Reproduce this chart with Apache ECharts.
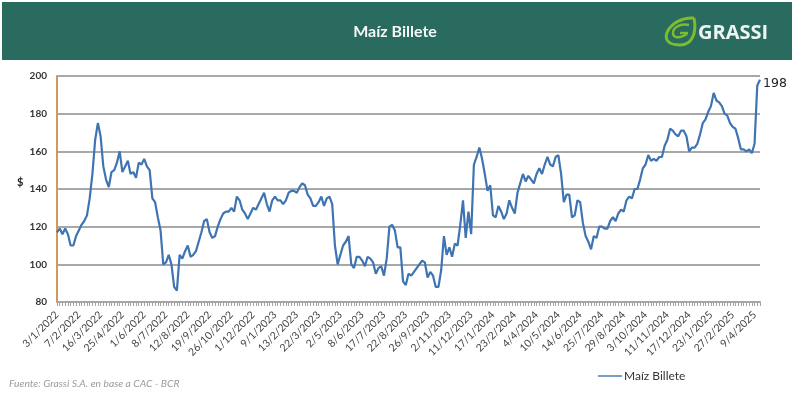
<!DOCTYPE html>
<html><head><meta charset="utf-8">
<style>html,body{margin:0;padding:0;background:#fff}#c{width:792px;height:395px;filter:blur(0.35px)}</style>
<script src="https://cdn.jsdelivr.net/npm/echarts@6/dist/echarts.min.js"></script>
</head><body><div id="c"></div>
<script>
const titleText = 'Maíz Billete';
const sourceText = 'Fuente: Grassi S.A. en base a CAC - BCR';
const seriesName = 'Maíz Billete';
const tickLabels = ['3/1/2022','7/2/2022','16/3/2022','25/4/2022','1/6/2022','8/7/2022','12/8/2022','19/9/2022','26/10/2022','1/12/2022','9/1/2023','13/2/2023','22/3/2023','2/5/2023','8/6/2023','17/7/2023','22/8/2023','26/9/2023','2/11/2023','11/12/2023','17/1/2024','23/2/2024','4/4/2024','10/5/2024','14/6/2024','25/7/2024','29/8/2024','3/10/2024','11/11/2024','17/12/2024','23/1/2025','27/2/2025','9/4/2025'];
const labelEvery = 8;
const values = [
117,119,116,119,116,110,110,115,
118,121,123,126,135,148,166,175,
168,152,145,141,149,150,154,160,
149,152,155,148,149,146,154,153,
156,152,150,135,133,125,118,100,
101,105,100,88,86,105,103,107,
110,104,105,107,112,117,123,124,
117,114,115,120,124,127,128,128,
130,128,136,134,129,127,124,127,
130,129,132,135,138,132,128,134,
136,134,134,132,134,138,139,139,
138,141,143,142,137,135,131,131,
133,136,131,135,136,132,110,100,
105,110,112,115,100,98,104,104,
102,99,104,103,101,95,98,99,
94,103,120,121,118,109,109,91,
89,95,94,96,98,100,102,101,
93,96,94,88,88,97,115,105,
109,104,111,110,121,134,114,128,
116,153,157,162,156,148,139,142,
126,125,131,128,124,127,134,130,
127,138,143,148,144,147,145,143,
148,151,148,153,157,153,152,157,
158,148,133,137,137,125,126,134,
133,122,115,112,108,115,114,120,
120,119,119,123,125,123,127,129,
128,134,136,135,140,140,145,151,
153,158,155,156,155,157,157,163,
166,172,171,169,168,171,171,168,
160,162,162,164,169,175,177,181,
184,191,187,186,184,180,179,175,
173,172,167,161,161,160,161,159,
164,195,198
];
const yMin = 80, yMax = 200, yStep = 20;
const categories = values.map((v,i)=> i % labelEvery === 0 && tickLabels[i/labelEvery] ? tickLabels[i/labelEvery] : '');
const FONT = 'Lato, "Open Sans", sans-serif';
const LEAF = {fill:'none',stroke:'#7dbb2f',lineWidth:3};
const chart = echarts.init(document.getElementById('c'), null, {renderer:'canvas', width:792, height:395});
chart.setOption({
  animation:false,
  backgroundColor:'#ffffff',
  grid:{left:57,right:32,top:76,bottom:93,containLabel:false},
  legend:{show:true,left:593,top:365,itemWidth:24,itemHeight:10,itemGap:4,
    data:[{name:seriesName,icon:'path://M0 4.3H24V5.7H0Z'}],
    textStyle:{fontFamily:FONT,fontSize:12,color:'#333',padding:[0,0,0,-3]}},
  xAxis:{type:'category',data:categories,boundaryGap:false,
    axisLine:{lineStyle:{color:'#a6a6a6',width:2}},
    axisTick:{show:true,interval:0,length:4,lineStyle:{color:'#a6a6a6',width:1}},
    axisLabel:{interval:labelEvery-1,rotate:45,fontFamily:FONT,fontSize:10.5,color:'#444',margin:11,hideOverlap:false}},
  yAxis:{type:'value',min:yMin,max:yMax,interval:yStep,
    axisLine:{show:true,lineStyle:{color:'#cf9a55',width:2}},
    axisTick:{show:false},
    axisLabel:{fontFamily:FONT,fontSize:10,fontWeight:'bold',color:'#333',margin:10},
    splitLine:{show:true,lineStyle:{color:'#a8a8a8',width:2}}},
  series:[{name:seriesName,type:'line',data:values,symbol:'none',smooth:false,
    lineStyle:{color:'#3f74b2',width:2.2},itemStyle:{color:'#3f74b2'},
    endLabel:{show:true,formatter:'{c}',fontFamily:'"DejaVu Sans"',fontSize:12.5,color:'#222',distance:3,offset:[0,4]}}],
  graphic:[
    {type:'rect',z:0,shape:{x:2,y:2,width:790,height:58},style:{fill:'#2a6b5f'}},
    {type:'text',z:5,style:{x:395,y:32,text:titleText,fill:'#f4f8f6',font:'bold 16px '+FONT,textAlign:'center',textVerticalAlign:'middle'}},
    {type:'text',z:5,style:{x:698,y:33,text:'GRASSI',fill:'#eef4f1',font:'bold 20px "Open Sans", Lato, sans-serif',textAlign:'left',textVerticalAlign:'middle'}},
    {type:'bezierCurve',z:5,shape:{x1:694,y1:18,x2:680,y2:45,cpx1:670,cpy1:16,cpx2:653,cpy2:45},style:LEAF},
    {type:'bezierCurve',z:5,shape:{x1:694,y1:18,x2:680,y2:45,cpx1:697,cpy1:33,cpx2:692,cpy2:45},style:LEAF},
    {type:'bezierCurve',z:5,shape:{x1:689,y1:25,x2:687,y2:34,cpx1:668,cpy1:21,cpx2:668,cpy2:46},style:{fill:'none',stroke:'#7dbb2f',lineWidth:2.4}},
    {type:'line',z:5,shape:{x1:680,y1:33,x2:688,y2:33},style:{stroke:'#7dbb2f',lineWidth:2.4}},
    {type:'text',z:5,style:{x:17,y:182,text:'$',fill:'#222',font:'bold 11px '+FONT,textVerticalAlign:'middle'}},
    {type:'text',z:5,style:{x:9,y:384,text:sourceText,fill:'#9a9a9a',font:'italic 10.3px '+FONT,textVerticalAlign:'middle'}}
  ]
});
</script></body></html>
